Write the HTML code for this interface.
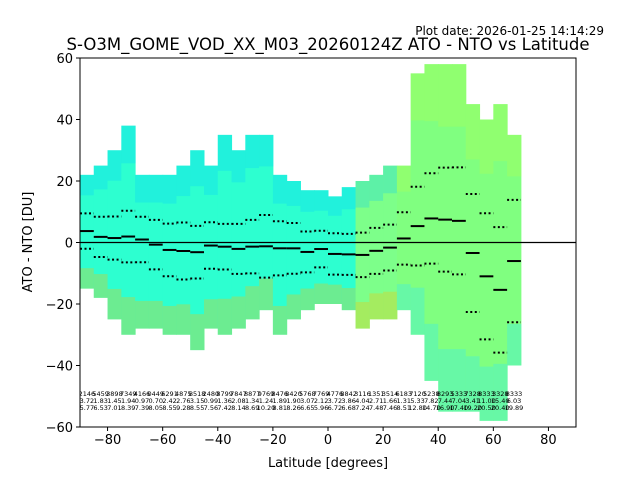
<!DOCTYPE html>
<html><head><meta charset="utf-8"><style>
body{margin:0;background:#fff;font-family:"Liberation Sans","DejaVu Sans",sans-serif}
svg text{font-family:"DejaVu Sans","Liberation Sans",sans-serif}
</style></head><body>
<svg id="chart" width="640" height="480" xmlns="http://www.w3.org/2000/svg">
<rect width="640" height="480" fill="#fff"/>
<text x="604" y="35" font-size="12" text-anchor="end">Plot date: 2026-01-25 14:14:29</text>
<text x="328" y="50" font-size="16.5" text-anchor="middle">S-O3M_GOME_VOD_XX_M03_20260124Z ATO - NTO vs Latitude</text>
<g id="plot"></g>
<text x="328" y="467" font-size="13" text-anchor="middle">Latitude [degrees]</text>
<text x="32" y="242" font-size="13" text-anchor="middle" transform="rotate(-90 32 242)">ATO - NTO [DU]</text>
</svg>
<script>
const binStarts=[-90,-85,-80,-75,-70,-65,-60,-55,-50,-45,-40,-35,-30,-25,-20,-15,-10,-5,0,5,10,15,20,25,30,35,40,45,50,55,60,65];
const means=[3.72,1.83,1.45,1.94,0.97,-0.70,-2.42,-2.76,-3.15,-0.99,-1.36,-2.08,-1.34,-1.24,-1.89,-1.90,-3.07,-2.12,-3.72,-3.86,-4.04,-2.71,-1.66,1.31,5.33,7.82,7.44,7.04,-3.41,-11.0,-15.4,-6.03];
const stds=[5.77,6.53,7.01,8.39,7.39,8.05,8.55,9.28,8.55,7.56,7.42,8.14,8.69,10.2,8.81,8.26,6.65,5.96,6.72,6.68,7.24,7.48,7.46,8.51,12.8,14.7,16.9,17.4,19.2,20.5,20.4,19.89];
const counts=["2146","5459","3898","7349","4166","0449","6291","4875","8518","2480","8799","7847","8877","9769","8476","8420","5768","7769","4776","8842","3116","1351","3514","6183","7120","5238","8293","5333","7328","8333","3328","8333"];
const tops=[22,25,30,38,22,22,22,25,30,25,35,30,35,35,22,20,17,17,15,18,20,22,25,25,55,58,58,58,45,40,45,35];
const bottoms=[-15,-18,-25,-30,-28,-28,-30,-30,-35,-28,-30,-28,-25,-22,-30,-25,-22,-20,-20,-22,-28,-25,-25,-22,-30,-45,-55,-55,-55,-58,-58,-40];
const xTicks=[-80,-60,-40,-20,0,20,40,60,80];
const yTicks=[60,40,20,0,-20,-40,-60];

const L=80,R=576,T=58,B=427;
const xs=v=>L+(v+90)/180*(R-L);
const ys=v=>T+(60-v)/120*(B-T);
const NS="http://www.w3.org/2000/svg";
const g=document.getElementById('plot');
function mk(tag,attrs,parent){const e=document.createElementNS(NS,tag);for(const k in attrs)e.setAttribute(k,attrs[k]);(parent||g).appendChild(e);return e;}
const defs=mk('defs',{});
const cp=mk('clipPath',{id:'clip'},defs);mk('rect',{x:L,y:T,width:R-L,height:B-T},cp);
const data=mk('g',{'clip-path':'url(#clip)'});
binStarts.forEach((s,i)=>{
  const x0=xs(s),x1=xs(s+5);
  const right=s>=25;
  const col=right?'#80ff80':(s>=10?'#7dff8a':'#2dffd0');
  const h=ys(bottoms[i])-ys(tops[i]);
  const r=mk('rect',{x:x0,y:ys(tops[i]),width:x1-x0+0.5,height:h,fill:col},data);
  
  
  const hi=mk('rect',{x:x0,y:ys(tops[i]),width:x1-x0+0.5,height:h*0.18,fill:right?'#c0ff40':'#00c8ff','fill-opacity':0.25},data);
  
  
  const lo=mk('rect',{x:x0,y:ys(bottoms[i])-h*0.18,width:x1-x0+0.5,height:h*0.18,fill:right?'#30e8ff':'#ffc000','fill-opacity':0.3},data);
  
  
});
const z=mk('line',{x1:L,x2:R,y1:ys(0),y2:ys(0),stroke:'#000','stroke-width':1.3},data);


binStarts.forEach((s,i)=>{
  const x0=xs(s),x1=xs(s+5);
  const m=mk('line',{x1:x0,x2:x1,y1:ys(means[i]),y2:ys(means[i]),stroke:'#000','stroke-width':2},data);
  
  
  [1,-1].forEach(sg=>{
    const d=mk('line',{x1:x0,x2:x1,y1:ys(means[i]+sg*stds[i]),y2:ys(means[i]+sg*stds[i]),stroke:'#000','stroke-width':2,'stroke-dasharray':'2 2.5'},data);
    
    
  });
  const cx=(x0+x1)/2;
  const t=mk('text',{x:cx,y:396,'font-size':6.5,'text-anchor':'middle'},data);
  t.textContent=counts[i];
  
  
  const t2=mk('text',{x:cx,y:403,'font-size':6.5,'text-anchor':'middle'},data);
  t2.textContent=Math.abs(means[i]).toFixed(2);
  
  
  const t3=mk('text',{x:cx,y:410,'font-size':6.5,'text-anchor':'middle'},data);
  t3.textContent=stds[i].toFixed(2);
  
  
});
const fr=mk('rect',{x:L,y:T,width:R-L,height:B-T,fill:'none',stroke:'#000','stroke-width':1});


xTicks.forEach(v=>{
  const x=xs(v);
  const l=mk('line',{x1:x,x2:x,y1:B,y2:B+4,stroke:'#000'});
  
  
  const t=mk('text',{x:x,y:B+17,'font-size':13,'text-anchor':'middle'});
  t.textContent=v<0?'\u2212'+(-v):String(v);
  
  
});
yTicks.forEach(v=>{
  const y=ys(v);
  const l=mk('line',{x1:L-4,x2:L,y1:y,y2:y,stroke:'#000'});
  
  
  const t=mk('text',{x:L-7,y:y+5,'font-size':13,'text-anchor':'end'});
  t.textContent=v<0?'\u2212'+(-v):String(v);
  
  
});
</script>
</body></html>
